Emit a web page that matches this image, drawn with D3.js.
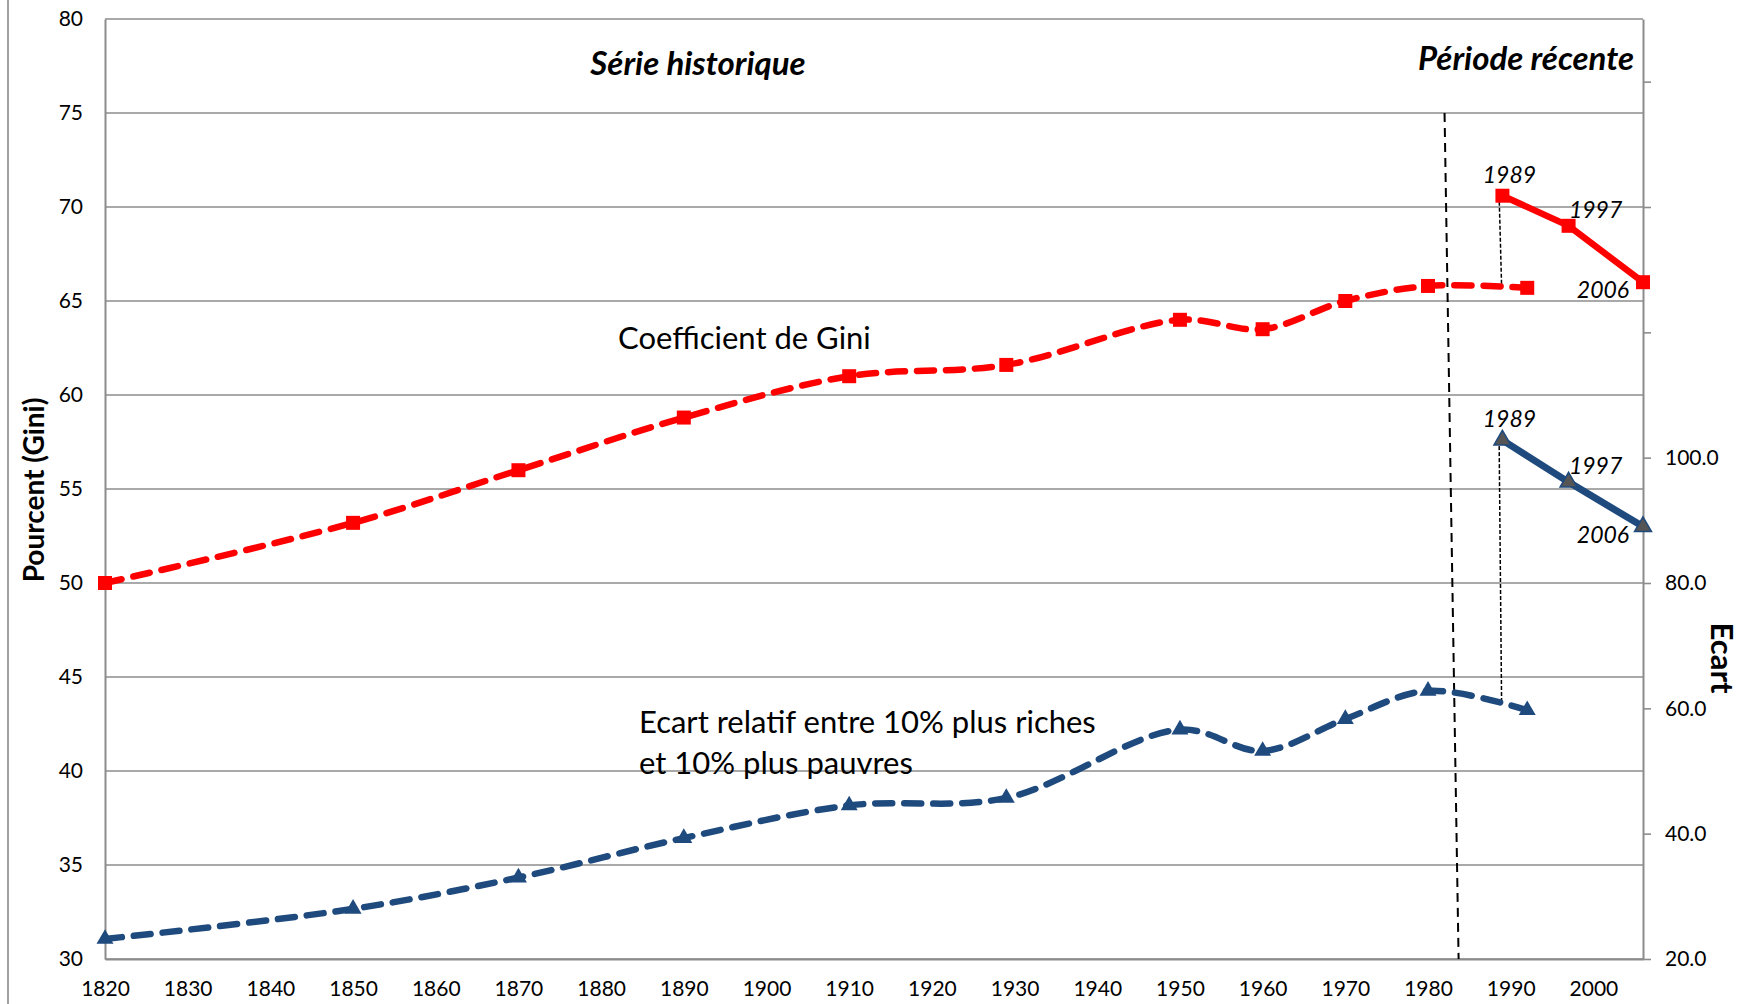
<!DOCTYPE html>
<html>
<head>
<meta charset="utf-8">
<script src="https://cdn.jsdelivr.net/npm/d3@7"></script>
<style>
  body { margin: 0; background: #fff; }
  text { font-family: Lato, "Open Sans", sans-serif; fill: #000; }
</style>
</head>
<body>
<svg width="1742" height="1004"></svg>
<script>
// historical series (smoothed, dashed)
var histYears = [1820, 1850, 1870, 1890, 1910, 1929, 1950, 1960, 1970, 1980, 1992];
var giniHist = [50.0, 53.2, 56.0, 58.8, 61.0, 61.6, 64.0, 63.5, 65.0, 65.8, 65.7];
var ecartHist = [23.2, 28.0, 33.0, 39.3, 44.5, 45.7, 56.6, 53.2, 58.3, 62.8, 59.7];

// recent period (solid)
var recentYears = [1989, 1997, 2006];
var giniRecent = [70.6, 69.0, 66.0];
var ecartRecent = [102.8, 96.1, 89.0];

var xTicks = d3.range(1820, 2001, 10);
var leftTicks = d3.range(30, 81, 5);
var rightTicks = d3.range(20, 161, 20);
var rightLabelled = [20, 40, 60, 80, 100];

// separator between the two periods, and the 1989 link lines
var separator = [[1982.0, 75], [1983.7, 30]];
var giniLink = [[1988.6, 70.6], [1988.9, 65.8]];
var ecartLink = [[1988.6, 102.8], [1988.9, 60.8]];

var red = "#ff0000", blue = "#1f4a7e", grid = "#8c8c8c";

var svg = d3.select("svg");
var mLeft = 105, mRight = 1643, mTop = 19, mBottom = 959;

var x = d3.scaleLinear().domain([1820, 2006]).range([mLeft, mRight]);
var yL = d3.scaleLinear().domain([30, 80]).range([mBottom, mTop]);
var yR = d3.scaleLinear().domain([20, 170]).range([mBottom, mTop]);

// outer chart border (left side only visible)
svg.append("line").attr("x1", 8).attr("x2", 8).attr("y1", 0).attr("y2", 1004)
    .attr("stroke", "#a0a0a0").attr("stroke-width", 2);

// gridlines
svg.append("g").selectAll("line").data(leftTicks).enter().append("line")
    .attr("x1", mLeft).attr("x2", mRight)
    .attr("y1", function(d){ return yL(d); }).attr("y2", function(d){ return yL(d); })
    .attr("stroke", grid).attr("stroke-width", 1.6);

// left axis
var gL = svg.append("g").attr("transform", "translate(" + mLeft + ",0)")
    .call(d3.axisLeft(yL).tickValues(leftTicks).tickSize(0).tickPadding(22));
gL.select(".domain").attr("stroke", grid).attr("stroke-width", 2);
gL.selectAll("text").attr("font-size", "21px");

// bottom axis
var gB = svg.append("g").attr("transform", "translate(0," + mBottom + ")")
    .call(d3.axisBottom(x).tickValues(xTicks).tickFormat(d3.format("d")).tickSize(0).tickPadding(22));
gB.select(".domain").attr("stroke", grid).attr("stroke-width", 2);
gB.selectAll("text").attr("font-size", "21px");

// right axis
var gR = svg.append("g").attr("transform", "translate(" + mRight + ",0)")
    .call(d3.axisRight(yR).tickValues(rightTicks).tickSizeOuter(0).tickSizeInner(8).tickPadding(14)
        .tickFormat(function(d){ return rightLabelled.indexOf(d) >= 0 ? d3.format(".1f")(d) : ""; }));
gR.select(".domain").attr("stroke", grid).attr("stroke-width", 2);
gR.selectAll("line").attr("stroke", grid).attr("stroke-width", 1.6);
gR.selectAll("text").attr("font-size", "21px");

// axis titles
svg.append("text")
    .attr("transform", "translate(44,490) rotate(-90)")
    .attr("text-anchor", "middle").attr("font-size", "28px").attr("font-weight", "bold")
    .text("Pourcent (Gini)");
svg.append("text")
    .attr("transform", "translate(1711,658) rotate(90)")
    .attr("text-anchor", "middle").attr("font-size", "31px").attr("font-weight", "bold")
    .text("Ecart");

// period titles
svg.append("text").attr("x", 698).attr("y", 75)
    .attr("text-anchor", "middle").attr("font-size", "33px")
    .attr("font-weight", "bold").attr("font-style", "italic")
    .text("Série historique");
svg.append("text").attr("x", 1634).attr("y", 70)
    .attr("text-anchor", "end").attr("font-size", "33px")
    .attr("font-weight", "bold").attr("font-style", "italic")
    .text("Période récente");

// separator
svg.append("line")
    .attr("x1", x(separator[0][0])).attr("y1", yL(separator[0][1]))
    .attr("x2", x(separator[1][0])).attr("y2", yL(separator[1][1]))
    .attr("stroke", "#000").attr("stroke-width", 2).attr("stroke-dasharray", "9,6");

// link lines at 1989
svg.append("line")
    .attr("x1", x(giniLink[0][0])).attr("y1", yL(giniLink[0][1]))
    .attr("x2", x(giniLink[1][0])).attr("y2", yL(giniLink[1][1]))
    .attr("stroke", "#000").attr("stroke-width", 1.5).attr("stroke-dasharray", "4,2");
svg.append("line")
    .attr("x1", x(ecartLink[0][0])).attr("y1", yR(ecartLink[0][1]))
    .attr("x2", x(ecartLink[1][0])).attr("y2", yR(ecartLink[1][1]))
    .attr("stroke", "#000").attr("stroke-width", 1.5).attr("stroke-dasharray", "4,2");

var giniH = histYears.map(function(d, i){ return [d, giniHist[i]]; });
var ecartH = histYears.map(function(d, i){ return [d, ecartHist[i]]; });
var giniR = recentYears.map(function(d, i){ return [d, giniRecent[i]]; });
var ecartR = recentYears.map(function(d, i){ return [d, ecartRecent[i]]; });

var smoothL = d3.line().curve(d3.curveCatmullRom.alpha(0.5))
    .x(function(d){ return x(d[0]); }).y(function(d){ return yL(d[1]); });
var smoothR = d3.line().curve(d3.curveCatmullRom.alpha(0.5))
    .x(function(d){ return x(d[0]); }).y(function(d){ return yR(d[1]); });
var straightL = d3.line().x(function(d){ return x(d[0]); }).y(function(d){ return yL(d[1]); });
var straightR = d3.line().x(function(d){ return x(d[0]); }).y(function(d){ return yR(d[1]); });

svg.append("path").datum(giniH).attr("d", smoothL)
    .attr("fill", "none").attr("stroke", red).attr("stroke-width", 6.5)
    .attr("stroke-dasharray", "17,12").attr("stroke-linecap", "round");
svg.append("path").datum(ecartH).attr("d", smoothR)
    .attr("fill", "none").attr("stroke", blue).attr("stroke-width", 6.5)
    .attr("stroke-dasharray", "17,12").attr("stroke-linecap", "round");
svg.append("path").datum(giniR).attr("d", straightL)
    .attr("fill", "none").attr("stroke", red).attr("stroke-width", 6.5);
svg.append("path").datum(ecartR).attr("d", straightR)
    .attr("fill", "none").attr("stroke", blue).attr("stroke-width", 7);

var square = d3.symbol().type(d3.symbolSquare).size(196);
var tri = d3.symbol().type(d3.symbolTriangle).size(125);

svg.append("g").selectAll("path").data(giniH.concat(giniR)).enter().append("path")
    .attr("d", square)
    .attr("transform", function(d){ return "translate(" + x(d[0]) + "," + yL(d[1]) + ")"; })
    .attr("fill", red);
svg.append("g").selectAll("path").data(ecartH).enter().append("path")
    .attr("d", tri)
    .attr("transform", function(d){ return "translate(" + x(d[0]) + "," + yR(d[1]) + ")"; })
    .attr("fill", blue);
svg.append("g").selectAll("path").data(ecartR).enter().append("path")
    .attr("d", tri)
    .attr("transform", function(d){ return "translate(" + x(d[0]) + "," + yR(d[1]) + ")"; })
    .attr("fill", "#555").attr("stroke", blue).attr("stroke-width", 1.5);

// year labels on recent points
var yearOffsets = [[7, -21], [27, -16], [-40, 8]];
svg.append("g").selectAll("text").data(giniR).enter().append("text")
    .attr("x", function(d, i){ return x(d[0]) + yearOffsets[i][0]; })
    .attr("y", function(d, i){ return yL(d[1]) + yearOffsets[i][1]; })
    .attr("dy", "0.35em").attr("text-anchor", "middle")
    .attr("font-size", "23px").attr("font-style", "italic")
    .text(function(d){ return d[0]; });
svg.append("g").selectAll("text").data(ecartR).enter().append("text")
    .attr("x", function(d, i){ return x(d[0]) + yearOffsets[i][0]; })
    .attr("y", function(d, i){ return yR(d[1]) + yearOffsets[i][1]; })
    .attr("dy", "0.35em").attr("text-anchor", "middle")
    .attr("font-size", "23px").attr("font-style", "italic")
    .text(function(d){ return d[0]; });

// series labels
svg.append("text").attr("x", 618).attr("y", 349).attr("font-size", "31px")
    .text("Coefficient de Gini");
svg.append("text").attr("x", 639).attr("y", 733).attr("font-size", "31px")
    .text("Ecart relatif entre 10% plus riches");
svg.append("text").attr("x", 639).attr("y", 774).attr("font-size", "31px")
    .text("et 10% plus pauvres");
</script>
</body>
</html>
